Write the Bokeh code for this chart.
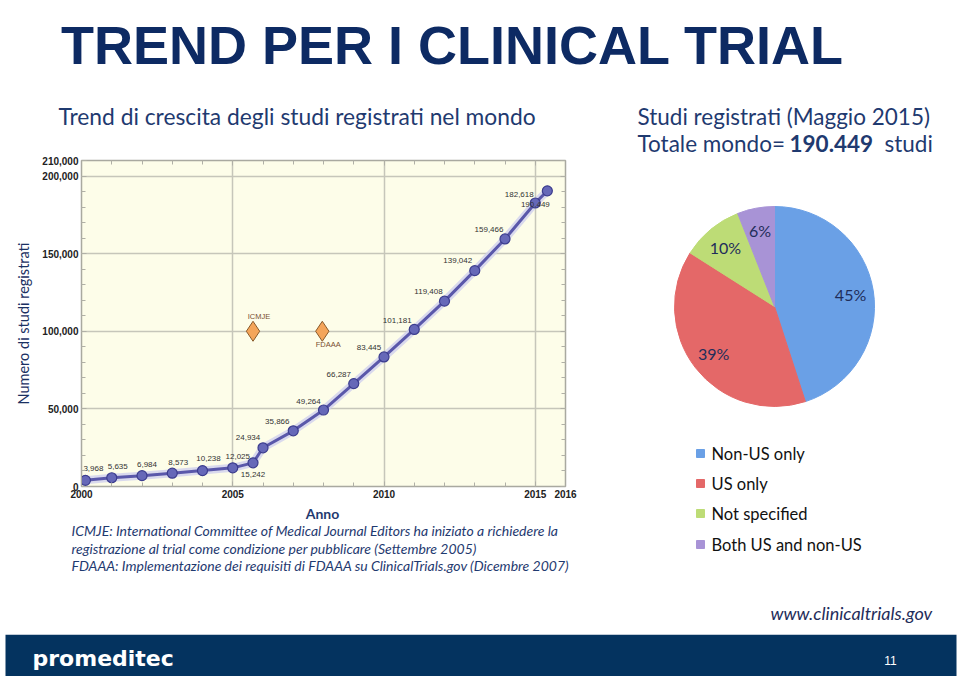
from bokeh.plotting import figure
from bokeh.layouts import column, row
from bokeh.models import Range1d, FixedTicker, NumeralTickFormatter, LinearAxis, ColumnDataSource, CustomJSTickFormatter
from bokeh.core.properties import value
from bokeh.embed import file_html
from bokeh.resources import INLINE
import numpy as np

# ---------------- data ----------------
years = [2000.13, 2001, 2002, 2003, 2004, 2005, 2005.67, 2006, 2007, 2008, 2009, 2010,
         2011, 2012, 2013, 2014, 2015, 2015.4]
studies = [3968, 5635, 6984, 8573, 10238, 12025, 15242, 24934, 35866, 49264, 66287, 83445,
           101181, 119408, 139042, 159466, 182618, 190449]
event_names = ["ICMJE", "FDAAA"]
event_years = [2005.67, 2007.96]
event_level = [100000, 100000]
x_ticks = [2000, 2005, 2010, 2015, 2016]
y_ticks = [0, 50000, 100000, 150000, 200000, 210000]

pie_categories = ["Non-US only", "US only", "Not specified", "Both US and non-US"]
pie_shares = [45, 39, 10, 6]

# ---------------- styles ----------------
label_dx = [8, 6, 5, 6, 6, 5, 0, -15, -16, -15, -15, -15, -17, -16, -17, -16, -16, -12]
label_dy = [-12, -11, -11, -11, -12, -11, 12, -10, -9, -9, -9, -9, -9, -10, -10, -9, -9, 14]
event_dx = [6, 6]
event_dy = [-15, 13]
pie_colors = ["#6aa0e6", "#e46868", "#bddc76", "#a893d6"]
NAVY = "#1f3a70"
TITLE_NAVY = "#0d2a63"
FONT = "Lato"
NARROW = "Liberation Sans Narrow, Liberation Sans"


def canvas(w, h, bg="white"):
    f = figure(width=w, height=h, x_range=Range1d(0, w), y_range=Range1d(0, h),
               x_axis_location=None, y_axis_location=None, output_backend="svg",
               toolbar_location=None, min_border=0, outline_line_color=None,
               background_fill_color=bg, border_fill_color=bg)
    f.grid.visible = False
    return f


def txt(f, x, y, s, size, color=NAVY, style="normal", align="left", font=FONT):
    f.text(x=[x], y=[y], text=[s], text_font=value(font), text_font_style=style,
           text_font_size=value(size), text_color=color, text_align=align, text_baseline="middle")


# ---------------- top band (page y 0..130) ----------------
top = canvas(960, 130)
top.text(x=[452], y=[86], text=["TREND PER I CLINICAL TRIAL"], text_font=value("Liberation Sans"),
         text_font_style="bold", text_font_size=value("54px"), text_color=TITLE_NAVY,
         text_align="center", text_baseline="alphabetic")
txt(top, 58, 15, "Trend di crescita degli studi registrati nel mondo", "22.8px")
txt(top, 637, 14, "Studi registrati (Maggio 2015)", "22.5px")

# ---------------- line chart (page x 0..600, y 130..500) ----------------
p = figure(width=600, height=370, x_range=Range1d(2000, 2016), y_range=Range1d(0, 210000),
           output_backend="svg", toolbar_location=None,
           min_border_left=81, min_border_right=35, min_border_top=30, min_border_bottom=14,
           background_fill_color="#fdfde9", border_fill_color="white",
           outline_line_color="#a9a9a0", outline_line_width=1.5)

xt = FixedTicker(ticks=x_ticks, minor_ticks=list(range(2001, 2016)))
yt = FixedTicker(ticks=y_ticks, minor_ticks=list(range(10000, 210000, 10000)))
p.xaxis.ticker = xt
p.yaxis.ticker = yt
p.yaxis.formatter = NumeralTickFormatter(format="0,0")

top_ax = LinearAxis(ticker=xt, formatter=CustomJSTickFormatter(code="return ''"))
right_ax = LinearAxis(ticker=yt, formatter=CustomJSTickFormatter(code="return ''"))
p.add_layout(top_ax, "above")
p.add_layout(right_ax, "right")

for ax in p.axis:
    ax.axis_line_color = "#a9a9a0"
    ax.major_tick_in = 5
    ax.major_tick_out = 0
    ax.minor_tick_in = 4
    ax.minor_tick_out = 0
    ax.major_tick_line_color = "#b0b0a6"
    ax.minor_tick_line_color = "#b0b0a6"
    ax.major_label_text_font = "Liberation Sans"
    ax.major_label_text_font_style = "bold"
    ax.major_label_text_font_size = "10px"
    ax.major_label_text_color = "#222222"
    ax.major_label_standoff = 3
p.xaxis[0].major_label_standoff = 2

p.yaxis[0].axis_label = "Numero di studi registrati"
p.yaxis[0].axis_label_text_font = FONT
p.yaxis[0].axis_label_text_font_style = "normal"
p.yaxis[0].axis_label_text_font_size = "14.5px"
p.yaxis[0].axis_label_text_color = "#1a3062"
p.yaxis[0].axis_label_standoff = 7

p.xgrid.grid_line_color = "#c6c6ba"
p.xgrid.grid_line_width = 1.5
p.ygrid.grid_line_color = "#c6c6ba"
p.ygrid.grid_line_width = 1.5

src = ColumnDataSource(dict(year=years, n=studies, lab=[f"{v:,}" for v in studies],
                            dx=label_dx, dy=label_dy))
p.line("year", "n", source=src, line_color="#cfcfee", line_width=8, line_alpha=0.8)
p.line("year", "n", source=src, line_color="#5a58aa", line_width=3)
p.scatter("year", "n", source=src, size=10, fill_color="#6668b8", line_color="#3c3d8e", line_width=1.2)
p.text("year", "n", text="lab", x_offset="dx", y_offset="dy", source=src,
       text_font=value(NARROW), text_font_size=value("8px"), text_color="#333333",
       text_align="center", text_baseline="middle")

esrc = ColumnDataSource(dict(x=event_years, y=event_level, name=event_names, dx=event_dx, dy=event_dy))
p.scatter("x", "y", source=esrc, marker="diamond", size=20, fill_color="#f4a55a",
          line_color="#8a5a2a", line_width=1)
p.text("x", "y", text="name", x_offset="dx", y_offset="dy", source=esrc,
       text_font=value("Liberation Sans"), text_font_size=value("7.5px"), text_color="#7a5030",
       text_align="center", text_baseline="middle")

# ---------------- pie panel (page x 600..960, y 130..500) ----------------
r = canvas(360, 370)
txt(r, 37, 357, "Totale mondo=", "22.5px")
txt(r, 189, 357, "190.449", "22.5px", style="bold")
txt(r, 284, 357, "studi", "22.5px")

shares = np.array(pie_shares, dtype=float) / sum(pie_shares)
cum = np.concatenate([[0.0], np.cumsum(shares)])
start = np.pi / 2 - 2 * np.pi * cum[:-1]
end = np.pi / 2 - 2 * np.pi * cum[1:]
mid = (start + end) / 2
cx, cy, R = 174, 194, 100
psrc = ColumnDataSource(dict(start=start, end=end, color=pie_colors, cat=pie_categories,
                             lx=cx + 0.77 * R * np.cos(mid), ly=cy + 0.77 * R * np.sin(mid),
                             pct=[f"{s}%" for s in pie_shares]))
r.wedge(x=cx, y=cy, radius=R, start_angle="start", end_angle="end", direction="clock",
        fill_color="color", line_color="color", source=psrc)
r.text("lx", "ly", text="pct", source=psrc, text_font=value(FONT), text_font_size=value("16px"),
       text_color="#1f2d5a", text_align="center", text_baseline="middle")

# ---------------- bottom band (page y 500..634) ----------------
bot = canvas(960, 134)
txt(bot, 322, 121, "Anno", "14px", style="bold", align="center")
note_lines = [
    "ICMJE: International Committee of Medical Journal Editors ha iniziato a richiedere la",
    "registrazione al trial come condizione per pubblicare (Settembre 2005)",
    "FDAAA: Implementazione dei requisiti di FDAAA su ClinicalTrials.gov (Dicembre 2007)",
]
for s, yy in zip(note_lines, [104, 86, 69]):
    txt(bot, 71, yy, s, "14px", style="italic")
txt(bot, 770, 22, "www.clinicaltrials.gov", "18px", color="#1f2d5a", style="italic")

# legend: entries above page y 500 sit in the pie panel, the others in the bottom band
leg_page_y = [453, 483, 513, 544]
for i, (cat, col) in enumerate(zip(pie_categories, pie_colors)):
    if leg_page_y[i] < 500:
        f, fx, fy = r, 600, 500 - leg_page_y[i]
    else:
        f, fx, fy = bot, 0, 634 - leg_page_y[i]
    f.scatter(x=[700 - fx], y=[fy], marker="square", size=8, fill_color=col, line_color=col)
    txt(f, 711 - fx, fy, cat, "16.5px", color="#111111")

# ---------------- footer (page y 634..676) ----------------
foot = canvas(960, 42)
foot.quad(left=[5], right=[956], bottom=[0], top=[42], fill_color="#04335f", line_color=None)
txt(foot, 32, 18, "promeditec", "22px", color="white", style="bold", font="DejaVu Sans")
txt(foot, 890, 16, "11", "12px", color="white", align="center", font="Liberation Sans")

page = column(top, row(column(p), column(r)), bot, foot)

open("out.html", "w").write(file_html(page, INLINE))
